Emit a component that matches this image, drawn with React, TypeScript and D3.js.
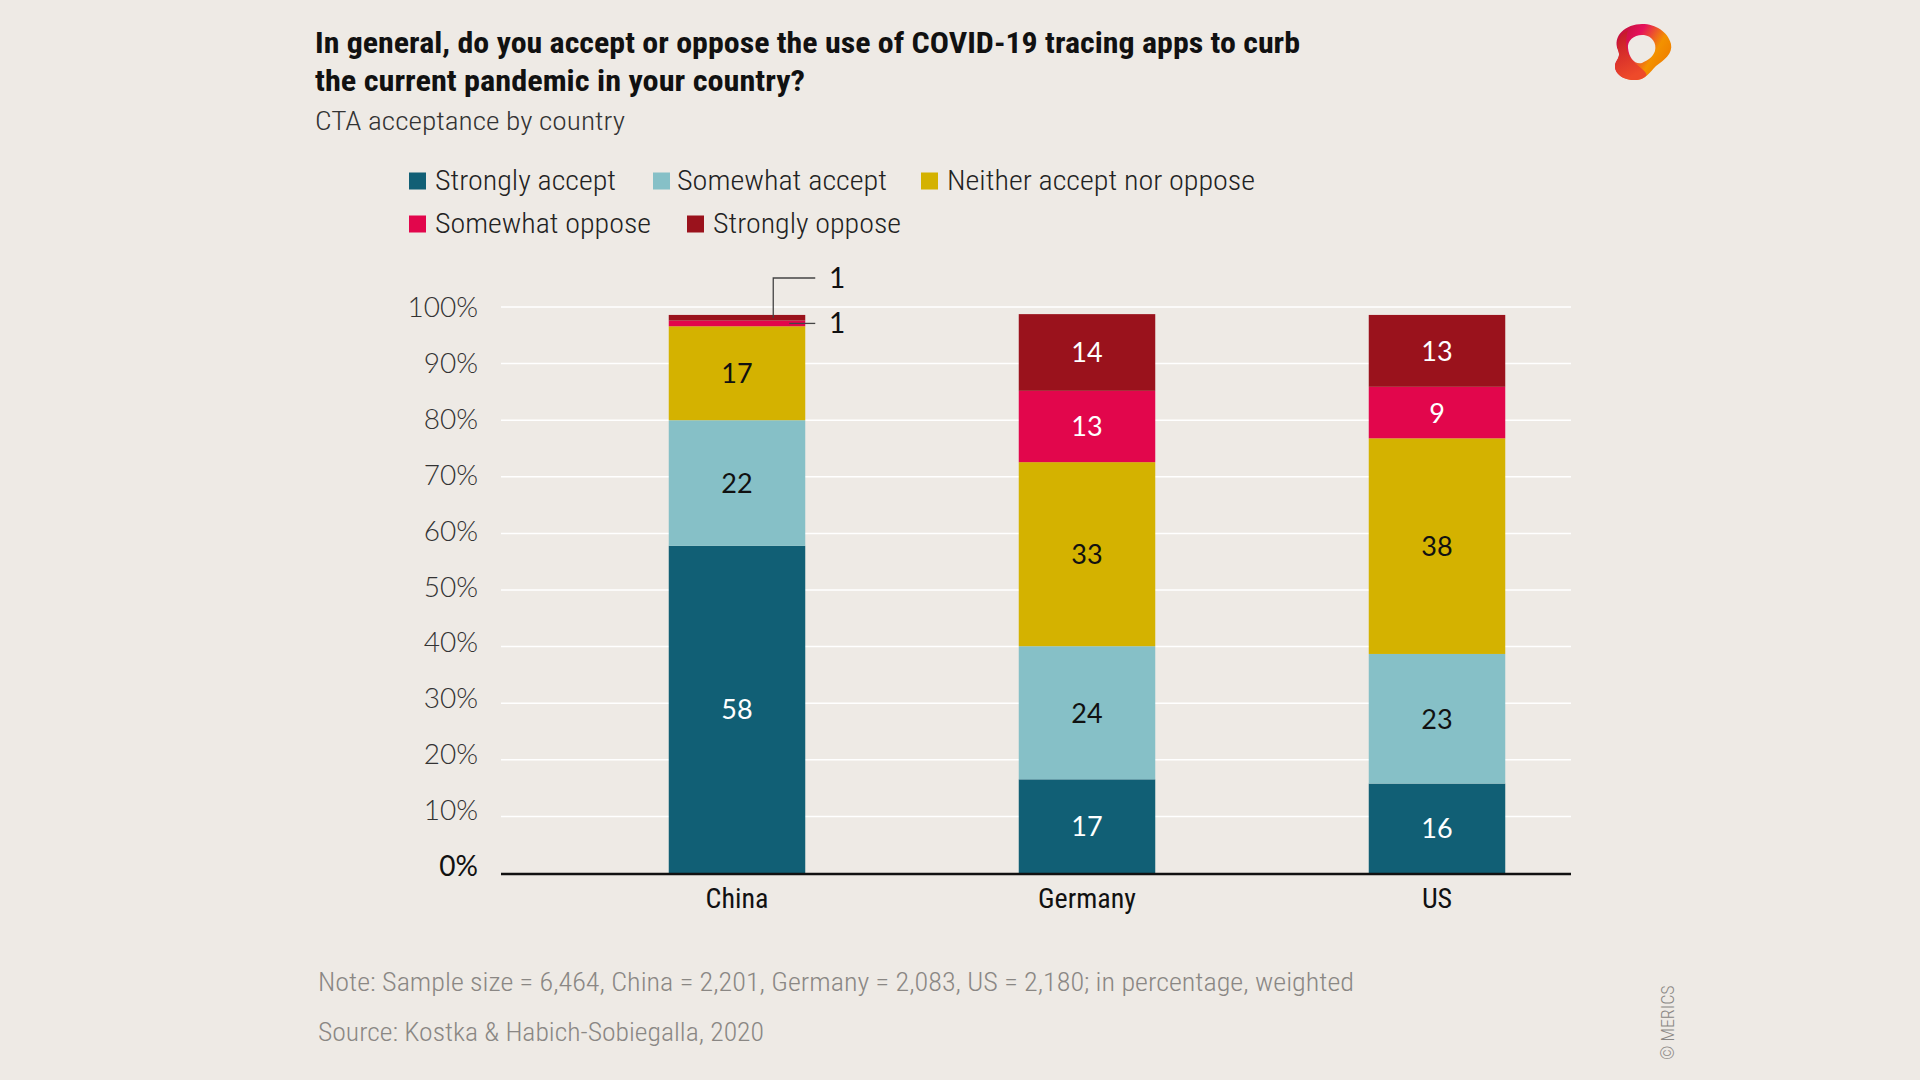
import React from "react";
import * as d3 from "d3";

const categories = ["China", "Germany", "US"];
const seriesNames = [
  "Strongly accept",
  "Somewhat accept",
  "Neither accept nor oppose",
  "Somewhat oppose",
  "Strongly oppose",
];
const seriesColors = ["#115f75", "#86c0c7", "#d4b200", "#e2064c", "#9a121c"];
const labelColors = ["#ffffff", "#111111", "#111111", "#ffffff", "#ffffff"];
const stronglyAccept = [57.8, 16.55, 15.8];
const somewhatAccept = [22.2, 23.52, 22.9];
const neitherAcceptNorOppose = [16.6, 32.52, 38.1];
const somewhatOppose = [1.0, 12.6, 9.1];
const stronglyOppose = [1.0, 13.55, 12.7];
const yTicks = [0, 10, 20, 30, 40, 50, 60, 70, 80, 90, 100];

const titleLines = [
  "In general, do you accept or oppose the use of COVID-19 tracing apps to curb",
  "the current pandemic in your country?",
];
const subtitle = "CTA acceptance by country";
const noteText = "Note: Sample size = 6,464, China = 2,201, Germany = 2,083, US = 2,180; in percentage, weighted";
const sourceText = "Source: Kostka & Habich-Sobiegalla, 2020";

const BG = "#eeeae5";
const COND = "'Liberation Sans Narrow', 'Roboto Condensed', 'Liberation Sans', sans-serif";
const NUM = "Lato, 'Noto Sans', sans-serif";

export default function App() {
  const W = 1920;
  const H = 1080;
  const axisLeft = 501;
  const axisRight = 1571;
  const y = d3.scaleLinear().domain([0, 100]).range([873, 307]);
  const x = d3.scaleBand<string>().domain(categories).range([562, 1612]).paddingInner(0.61).paddingOuter(0.305);

  const series = [stronglyAccept, somewhatAccept, neitherAcceptNorOppose, somewhatOppose, stronglyOppose];
  const rows = categories.map((c, i) => ({
    cat: c,
    s0: stronglyAccept[i],
    s1: somewhatAccept[i],
    s2: neitherAcceptNorOppose[i],
    s3: somewhatOppose[i],
    s4: stronglyOppose[i],
  }));
  const keys = ["s0", "s1", "s2", "s3", "s4"];
  const stacked = d3.stack<any>().keys(keys)(rows);
  const bw = x.bandwidth();

  const legendRows = [
    [
      { i: 0, sx: 409, tx: 435, w: 181 },
      { i: 1, sx: 653, tx: 677, w: 210 },
      { i: 2, sx: 921, tx: 947, w: 308 },
    ],
    [
      { i: 3, sx: 409, tx: 435, w: 216 },
      { i: 4, sx: 687, tx: 713, w: 188 },
    ],
  ];
  const legendY = [181, 224];

  const chinaX = (x("China") as number) + bw;
  const topSeg = stacked[4][0];
  const midSeg = stacked[3][0];
  const topMidY = y((topSeg[0] + topSeg[1]) / 2);
  const midMidY = y((midSeg[0] + midSeg[1]) / 2);
  const upperLabelY = y(100) - 29;

  return (
    <div style={{ position: "fixed", left: 0, top: 0, width: W, height: H }}>
      <svg width={W} height={H} style={{ display: "block" }}>
        <defs>
          <linearGradient id="logoGrad" x1="0" y1="0" x2="1" y2="0.6">
            <stop offset="0" stopColor="#b5122b" />
            <stop offset="0.4" stopColor="#e5115c" />
            <stop offset="0.75" stopColor="#f39200" />
            <stop offset="1" stopColor="#ef7d00" />
          </linearGradient>
          <linearGradient id="logoGrad2" x1="0" y1="0" x2="0.3" y2="1">
            <stop offset="0" stopColor="#c0142b" />
            <stop offset="1" stopColor="#ee4a2a" />
          </linearGradient>
        </defs>
        <rect x={0} y={0} width={W} height={H} fill={BG} />

        {/* Title */}
        {titleLines.map((t, i) => (
          <text
            key={i}
            x={315}
            y={53 + i * 38}
            fontFamily={COND}
            fontWeight={700}
            fontSize={29}
            fill="#111"
            textLength={i === 0 ? 985 : 490}
            lengthAdjust="spacingAndGlyphs"
          >
            {t}
          </text>
        ))}
        <text x={315} y={130} fontFamily={COND} fontWeight={300} fontSize={26} fill="#333" textLength={310} lengthAdjust="spacingAndGlyphs">
          {subtitle}
        </text>

        {/* Logo */}
        <g>
          <path
            d="M1618,50 C1612,36 1626,24 1642,24 C1656,24 1668,32 1671,44 C1673,54 1664,60 1656,66 C1650,72 1646,80 1634,80 C1620,80 1612,70 1616,62 C1619,57 1620,55 1618,50 Z"
            fill="url(#logoGrad)"
          />
          <path
            d="M1618,50 C1616,42 1620,34 1628,30 C1624,42 1626,56 1636,64 C1644,70 1648,74 1646,76 C1642,80 1638,80 1634,80 C1620,80 1612,70 1616,62 C1619,57 1620,55 1618,50 Z"
            fill="url(#logoGrad2)"
          />
          <path
            d="M1628,48 C1627,40 1635,34 1644,35 C1652,36 1657,43 1655,51 C1653,57 1648,60 1642,63 C1635,65 1629,58 1628,48 Z"
            fill={BG}
          />
        </g>

        {/* Legend */}
        {legendRows.map((row, ri) =>
          row.map((it) => (
            <g key={`${ri}-${it.i}`}>
              <rect x={it.sx} y={legendY[ri] - 8.5} width={17} height={17} fill={seriesColors[it.i]} />
              <text
                x={it.tx}
                y={legendY[ri] + 9}
                fontFamily={COND}
                fontWeight={300}
                fontSize={27}
                fill="#222"
                textLength={it.w}
                lengthAdjust="spacingAndGlyphs"
              >
                {seriesNames[it.i]}
              </text>
            </g>
          ))
        )}

        {/* Gridlines */}
        {yTicks.map((t) =>
          t === 0 ? null : (
            <line key={t} x1={axisLeft} x2={axisRight} y1={y(t)} y2={y(t)} stroke="#ffffff" strokeWidth={1.5} />
          )
        )}

        {/* Y tick labels */}
        {yTicks.map((t) => (
          <text
            key={t}
            x={478}
            y={y(t) + 3 + t * 0.07}
            textAnchor="end"
            fontFamily={NUM}
            fontWeight={t === 0 ? 400 : 300}
            fontSize={28}
            fill={t === 0 ? "#111" : "#333"}
          >
            {t}%
          </text>
        ))}

        {/* Bars */}
        {stacked.map((layer, li) =>
          layer.map((d, ci) => (
            <rect
              key={`${li}-${ci}`}
              x={x(categories[ci])}
              y={y(d[1])}
              width={bw}
              height={y(d[0]) - y(d[1])}
              fill={seriesColors[li]}
            />
          ))
        )}

        {/* Bar labels */}
        {stacked.map((layer, li) =>
          layer.map((d, ci) => {
            const v = series[li][ci];
            if (v < 5) return null;
            return (
              <text
                key={`l-${li}-${ci}`}
                x={(x(categories[ci]) as number) + bw / 2}
                y={y((d[0] + d[1]) / 2) + 10}
                textAnchor="middle"
                fontFamily={NUM}
                fontSize={27}
                fill={labelColors[li]}
              >
                {Math.round(v)}
              </text>
            );
          })
        )}

        {/* China small segment leader lines */}
        <polyline
          points={`${chinaX - 32},${topMidY} ${chinaX - 32},${upperLabelY} ${chinaX + 10},${upperLabelY}`}
          fill="none"
          stroke="#444"
          strokeWidth={1.3}
        />
        <line x1={chinaX - 16} x2={chinaX + 10} y1={midMidY} y2={midMidY} stroke="#444" strokeWidth={1.3} />
        <text x={829} y={upperLabelY + 10} fontFamily={NUM} fontSize={28} fill="#111">
          {Math.round(stronglyOppose[0])}
        </text>
        <text x={829} y={midMidY + 10} fontFamily={NUM} fontSize={28} fill="#111">
          {Math.round(somewhatOppose[0])}
        </text>

        {/* X axis */}
        <line x1={axisLeft} x2={axisRight} y1={y(0) + 1} y2={y(0) + 1} stroke="#111" strokeWidth={2.5} />
        {categories.map((c) => (
          <text
            key={c}
            x={(x(c) as number) + bw / 2}
            y={908}
            textAnchor="middle"
            fontFamily={COND}
            fontSize={28}
            fill="#111"
          >
            {c}
          </text>
        ))}

        {/* Footer */}
        <text x={318} y={991} fontFamily={COND} fontWeight={300} fontSize={26} fill="#8a8784" textLength={1036} lengthAdjust="spacingAndGlyphs">
          {noteText}
        </text>
        <text x={318} y={1041} fontFamily={COND} fontWeight={300} fontSize={26} fill="#8a8784" textLength={446} lengthAdjust="spacingAndGlyphs">
          {sourceText}
        </text>
        <text
          x={0}
          y={0}
          transform="translate(1674,1060) rotate(-90)"
          fontFamily={COND}
          fontWeight={300}
          fontSize={18}
          fill="#8a8784"
        >
          © MERICS
        </text>
      </svg>
    </div>
  );
}
